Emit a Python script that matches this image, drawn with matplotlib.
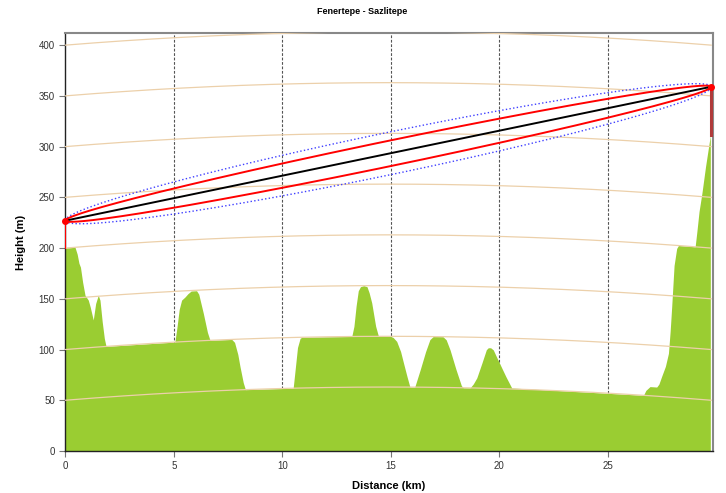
import numpy as np
import matplotlib
matplotlib.use("Agg")
import matplotlib.pyplot as plt

# link end points (km, m above sea level)
link_dist = 29.76
site_a_height = 227.0
site_b_height = 359.0
site_a_ground = 200.0
site_b_ground = 311.0

# terrain profile (raw elevation, before earth bulge)
terrain_km = [0.0, 0.45, 0.55, 0.63, 0.70, 0.80, 0.91, 1.06, 1.15, 1.29,
              1.40, 1.52, 1.60, 1.70, 1.80, 1.88,
              5.05, 5.15, 5.25, 5.36, 5.52, 5.65, 5.80, 6.05, 6.15, 6.36, 6.55, 6.67,
              7.67, 7.80, 7.95, 8.05, 8.20, 8.30,
              10.50, 10.60, 10.70, 10.82, 10.90,
              13.20, 13.30, 13.40, 13.50, 13.60, 13.75, 13.90, 14.00, 14.12, 14.30, 14.43,
              14.96, 15.10, 15.27, 15.45, 15.58, 15.75, 15.88,
              16.10, 16.35, 16.60, 16.80, 16.95, 17.40, 17.55, 17.73, 18.00, 18.25, 18.34,
              18.65, 18.80, 18.96, 19.20, 19.40, 19.49, 19.60, 19.72, 19.85, 20.03, 20.30, 20.57,
              26.64, 26.75, 26.94, 27.25, 27.35, 27.48, 27.65, 27.79, 27.87, 27.94,
              28.05, 28.17, 28.25, 29.02, 29.10, 29.20, 29.33, 29.50, 29.72]
terrain_m = [200, 200, 193, 184, 180, 165, 152, 147, 140, 127,
             143, 151, 146, 125, 108, 100,
             100, 115, 132, 141, 144, 147, 149.5, 149.5, 146, 127, 108, 100,
             100, 97, 85, 73, 57, 50,
             50, 70, 90, 99, 100,
             100, 110, 130, 145, 149, 150, 149, 143, 133, 110, 100,
             100, 99, 95, 85, 74, 60, 50,
             50, 67, 85, 97, 100, 100, 97, 87, 68, 52, 50,
             50, 54, 60, 75, 88, 90, 90, 88, 82, 74, 62, 51,
             50, 55, 59, 59, 62, 70, 80, 93, 115, 139,
             180, 197, 200, 200, 215, 235, 253, 280, 311]

curve_levels = [50, 100, 150, 200, 250, 300, 350, 400]
grid_km = [5, 10, 15, 20, 25]
x_ticks = [0, 5, 10, 15, 20, 25]
y_ticks = [0, 50, 100, 150, 200, 250, 300, 350, 400]

k_factor = 4.0 / 3.0
earth_r = 6371e3
freq_ghz = 5.2


def bulge(d):
    d = np.asarray(d, dtype=float)
    return d * 1e3 * (link_dist - d) * 1e3 / (2 * k_factor * earth_r)


fig = plt.figure(figsize=(7.26, 4.93), dpi=100)
ax = fig.add_axes([0.0899, 0.0852, 0.8918, 0.8479])
ax.set_xlim(0, 29.83)
ax.set_ylim(0, 412)

#terrain with earth bulge
tx = np.array(terrain_km)
ty = np.array(terrain_m) + bulge(tx)
ax.fill_between(tx, ty, 0, color='#9acd32', lw=0, zorder=2)

#vertical grid
for g in grid_km:
    ax.axvline(g, color='#555555', lw=0.8, ls=(0, (2.5, 1.5)), zorder=1)

#earth curvature lines
cx = np.linspace(0, link_dist, 200)
for lv in curve_levels:
    ax.plot(cx, lv + bulge(cx), color='#ecd0aa', lw=0.9, zorder=3)

#line of sight
ax.plot([0, link_dist], [site_a_height, site_b_height], color='black', lw=1.4, zorder=5)

#fresnel zones built in display space
lam = 0.299792458 / freq_ghz
r_max = np.sqrt(lam * link_dist * 1e3 / 4.0)
trans = ax.transData
p0 = trans.transform((0, site_a_height))
p1 = trans.transform((link_dist, site_b_height))
sy = trans.transform((0, 1))[1] - trans.transform((0, 0))[1]
c = (p0 + p1) / 2
u = (p1 - p0) / np.linalg.norm(p1 - p0)
n = np.array([-u[1], u[0]])
a = np.linalg.norm(p1 - p0) / 2
th = np.linspace(0, np.pi, 300)
for frac, col, ls, lw in [(1.0, '#4040ff', ':', 1.0), (0.6, 'red', '-', 1.4)]:
    b = frac * r_max * sy
    for sgn in (1, -1):
        pts = c[None, :] - a * np.cos(th)[:, None] * u[None, :] \
            + sgn * b * np.sin(th)[:, None] * n[None, :]
        dpts = trans.inverted().transform(pts)
        ax.plot(dpts[:, 0], dpts[:, 1], color=col, ls=ls, lw=lw, zorder=4)

#masts and sites
ax.plot([0, 0], [site_a_ground, site_a_height], color='red', lw=0.8, zorder=6)
ax.plot([link_dist, link_dist], [site_b_ground, site_b_height], color='#b03a3a', lw=2.2, zorder=6)
ax.plot([0, link_dist], [site_a_height, site_b_height], 'o', color='red', ms=4, zorder=7,
        clip_on=False)

ax.set_xticks(x_ticks)
ax.set_yticks(y_ticks)
ax.tick_params(labelsize=7, colors='#333333', length=4, width=0.8)
for lab in ax.get_xticklabels() + ax.get_yticklabels():
    lab.set_fontfamily('Liberation Sans')
ax.tick_params(axis='both', color='#777777')

for s in ['left', 'bottom']:
    ax.spines[s].set_color('#222222')
    ax.spines[s].set_linewidth(1.0)
for s in ['top', 'right']:
    ax.spines[s].set_color('#888888')
    ax.spines[s].set_linewidth(1.5)

ax.set_xlabel('Distance (km)', fontsize=8, fontweight='bold', family='Liberation Sans', labelpad=7)
ax.set_ylabel('Height (m)', fontsize=8, fontweight='bold', family='Liberation Sans', labelpad=9)
fig.text(0.4986, 0.976, 'Fenertepe - Sazlitepe', ha='center', va='center', fontsize=6.5,
         fontweight='bold', family=['Liberation Sans Narrow', 'Liberation Sans'])

fig.savefig('out.png', dpi=100)
